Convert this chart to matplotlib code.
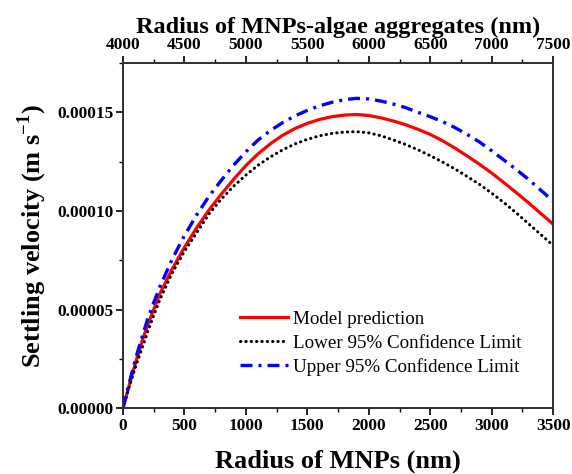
import numpy as np
import matplotlib
matplotlib.use('Agg')
import matplotlib.pyplot as plt
from matplotlib.ticker import MultipleLocator, FormatStrFormatter

plt.rcParams['font.family'] = ['Liberation Serif', 'DejaVu Serif']
plt.rcParams['mathtext.fontset'] = 'custom'
plt.rcParams['mathtext.rm'] = 'Liberation Serif:bold'
plt.rcParams['mathtext.bf'] = 'Liberation Serif:bold'

# radius of MNPs (nm)
radius = [0, 50, 100, 150, 200, 250, 300, 400, 500, 600, 700, 800, 900, 1000,
          1100, 1200, 1300, 1400, 1500, 1600, 1700, 1800, 1900, 2000, 2100,
          2200, 2300, 2400, 2500, 2600, 2700, 2800, 2900, 3000, 3100, 3200,
          3300, 3400, 3500]

# settling velocity (m/s)
model = [0, 1.15e-5, 2.25e-5, 3.3e-5, 4.2e-5, 5.0e-5, 5.8e-5, 7.05e-5, 8.15e-5,
         9.15e-5, 1.005e-4, 1.085e-4, 1.16e-4, 1.23e-4, 1.29e-4, 1.341e-4,
         1.384e-4, 1.418e-4, 1.444e-4, 1.464e-4, 1.478e-4, 1.486e-4, 1.489e-4,
         1.484e-4, 1.472e-4, 1.456e-4, 1.437e-4, 1.414e-4, 1.388e-4, 1.356e-4,
         1.319e-4, 1.279e-4, 1.237e-4, 1.192e-4, 1.143e-4, 1.093e-4, 1.041e-4,
         9.87e-5, 9.33e-5]
lower = [0, 1.05e-5, 2.05e-5, 2.95e-5, 3.85e-5, 4.7e-5, 5.5e-5, 6.85e-5, 7.95e-5,
         8.9e-5, 9.85e-5, 1.06e-4, 1.125e-4, 1.182e-4, 1.232e-4, 1.274e-4,
         1.31e-4, 1.34e-4, 1.363e-4, 1.381e-4, 1.393e-4, 1.40e-4, 1.402e-4,
         1.396e-4, 1.381e-4, 1.36e-4, 1.337e-4, 1.31e-4, 1.28e-4, 1.248e-4,
         1.213e-4, 1.175e-4, 1.135e-4, 1.09e-4, 1.042e-4, 9.9e-5, 9.35e-5,
         8.8e-5, 8.25e-5]
upper = [0, 1.25e-5, 2.45e-5, 3.5e-5, 4.5e-5, 5.35e-5, 6.15e-5, 7.55e-5, 8.75e-5,
         9.8e-5, 1.075e-4, 1.155e-4, 1.232e-4, 1.30e-4, 1.36e-4, 1.408e-4,
         1.448e-4, 1.482e-4, 1.51e-4, 1.533e-4, 1.551e-4, 1.564e-4, 1.571e-4,
         1.568e-4, 1.557e-4, 1.542e-4, 1.524e-4, 1.50e-4, 1.478e-4, 1.453e-4,
         1.423e-4, 1.388e-4, 1.35e-4, 1.305e-4, 1.258e-4, 1.21e-4, 1.16e-4,
         1.105e-4, 1.05e-4]

fig = plt.figure(figsize=(5.72, 4.74), dpi=100)
ax = fig.add_axes([0.215, 0.139, 0.752, 0.728])

ax.plot(radius, model, color='#ff0000', lw=2.3, label='Model prediction')
ax.plot(radius, lower, color='black', lw=2.2, linestyle=(0, (0.1, 1.65)),
        dash_capstyle='round', label='Lower 95% Confidence Limit')
ax.plot(radius, upper, color='#0000ff', lw=2.4, linestyle=(0, (3.6, 1.8, 0.9, 1.8)),
        label='Upper 95% Confidence Limit')

ax.set_xlim(0, 3500)
ax.set_ylim(0, 0.000175)
ax.xaxis.set_major_locator(MultipleLocator(500))
ax.xaxis.set_minor_locator(MultipleLocator(250))
ax.yaxis.set_major_locator(MultipleLocator(0.00005))
ax.yaxis.set_minor_locator(MultipleLocator(0.000025))
ax.yaxis.set_major_formatter(FormatStrFormatter('%.5f'))

for s in ax.spines.values():
    s.set_linewidth(1.4)
    s.set_color('#333333')

ax.tick_params(which='major', direction='out', length=5, width=1.2, labelsize=12.5, pad=2)
ax.tick_params(which='minor', direction='out', length=3, width=1.0)
for lab in ax.get_xticklabels() + ax.get_yticklabels():
    lab.set_fontweight('bold')

ax.set_xlabel('Radius of MNPs (nm)', fontsize=19, fontweight='bold', labelpad=11)
ax.set_ylabel(r'Settling velocity (m s$^{-1}$)', fontsize=19, fontweight='bold', labelpad=6)

top = ax.twiny()
top.set_xlim(4000, 7500)
top.xaxis.set_major_locator(MultipleLocator(500))
top.xaxis.set_minor_locator(MultipleLocator(250))
top.tick_params(which='major', direction='out', length=5, width=1.2, labelsize=12.5, pad=2)
top.tick_params(which='minor', direction='out', length=3, width=1.0)
for lab in top.get_xticklabels():
    lab.set_fontweight('bold')
for s in top.spines.values():
    s.set_linewidth(1.4)
    s.set_color('#333333')
top.set_xlabel('Radius of MNPs-algae aggregates (nm)', fontsize=17.5, fontweight='bold', labelpad=3)

ax.legend(loc='upper left', bbox_to_anchor=(0.272, 0.283), frameon=False,
          fontsize=13.7, handlelength=2.5, handletextpad=0.3, labelspacing=0.34,
          borderpad=0, borderaxespad=0)

plt.savefig('out.png', dpi=100)
